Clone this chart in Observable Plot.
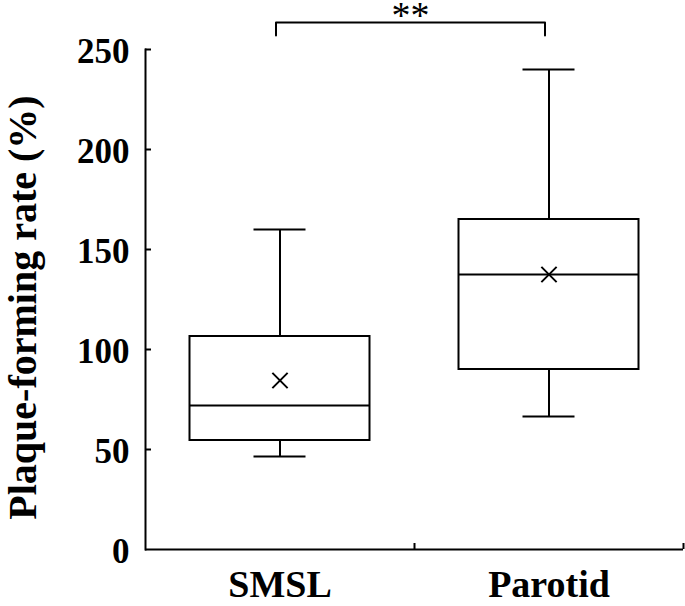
<!DOCTYPE html>
<html>
<head>
<meta charset="utf-8">
<script src="https://cdn.jsdelivr.net/npm/d3@7"></script>
<script src="https://cdn.jsdelivr.net/npm/@observablehq/plot@0.6"></script>
<style>
  html, body { margin: 0; padding: 0; background: white; }
  svg { display: block; }
</style>
</head>
<body>
<div id="chart"></div>
<script>
const categories = ["SMSL", "Parotid"];
const whiskerLow = [46.5, 66.5];
const q1 = [54.5, 90];
const median = [72, 137.5];
const q3 = [106.5, 165];
const whiskerHigh = [160, 240];
const mean = [84.5, 137.5];
const yTicks = [0, 50, 100, 150, 200, 250];
const yTitle = "Plaque-forming rate (%)";
const sigLabel = "**";
const sigPair = ["SMSL", "Parotid"];
const sigBracketY = 263.5;
const sigLegY = 257;
const sigLabelY = 269.5;

const rows = categories.map((c, i) => ({
  cat: c, lo: whiskerLow[i], q1: q1[i], med: median[i], q3: q3[i], hi: whiskerHigh[i], mean: mean[i]
}));
const bracket = [
  {x: sigPair[0], y: sigLegY},
  {x: sigPair[0], y: sigBracketY},
  {x: sigPair[1], y: sigBracketY},
  {x: sigPair[1], y: sigLegY}
];

const W = 685, H = 606;
const mL = 145, mR = 2, mT = 49, mB = 57;
const step = (W - mL - mR) / categories.length;
const frameW = W - mL - mR, frameH = H - mT - mB;
const boxInset = (step - 180) / 2;
const capInset = (step - 52) / 2;

const chart = Plot.plot({
  width: W,
  height: H,
  marginLeft: mL,
  marginRight: mR,
  marginTop: mT,
  marginBottom: mB,
  style: {fontFamily: "'Liberation Serif', 'Times New Roman', serif", fontWeight: "bold", background: "white", color: "black", overflow: "visible"},
  x: {domain: categories, padding: 0, label: null},
  y: {domain: [0, 250], label: null},
  marks: [
    Plot.frame({anchor: "left", strokeWidth: 2, stroke: "black"}),
    Plot.ruleY([0], {strokeWidth: 2, stroke: "black"}),
    Plot.tickY(yTicks.filter(d => d > 0), {y: d => d, insetRight: frameW - 6, strokeWidth: 2, stroke: "black"}),
    Plot.ruleX(categories, {x: d => d, insetTop: frameH - 6, dx: step / 2, strokeWidth: 2, stroke: "black"}),
    Plot.axisY({ticks: yTicks, tickSize: 0, tickPadding: 16, fontSize: 35, fontWeight: "bold", dy: 2}),
    Plot.axisX({tickSize: 0, tickPadding: 21, fontSize: 38, fontWeight: "bold"}),
    Plot.ruleX(rows, {x: "cat", y1: "lo", y2: "q1", strokeWidth: 2, stroke: "black"}),
    Plot.ruleX(rows, {x: "cat", y1: "q3", y2: "hi", strokeWidth: 2, stroke: "black"}),
    Plot.tickY(rows, {x: "cat", y: "lo", insetLeft: capInset, insetRight: capInset, strokeWidth: 2, stroke: "black"}),
    Plot.tickY(rows, {x: "cat", y: "hi", insetLeft: capInset, insetRight: capInset, strokeWidth: 2, stroke: "black"}),
    Plot.barY(rows, {x: "cat", y1: "q1", y2: "q3", insetLeft: boxInset, insetRight: boxInset, fill: "white", stroke: "black", strokeWidth: 2}),
    Plot.tickY(rows, {x: "cat", y: "med", insetLeft: boxInset, insetRight: boxInset, strokeWidth: 2, stroke: "black"}),
    Plot.dot(rows, {x: "cat", y: "mean", symbol: "times", r: 7, stroke: "black", strokeWidth: 2}),
    Plot.line(bracket, {x: "x", y: "y", dx: -4, stroke: "black", strokeWidth: 2, curve: "linear"}),
    Plot.text([sigLabel], {x: () => sigPair[0], y: () => sigLabelY, dx: step / 2 - 4, dy: 5, fontSize: 38, fontWeight: "normal", lineAnchor: "middle"}),
    Plot.text([yTitle], {frameAnchor: "left", textAnchor: "middle", dx: -122, dy: 8, rotate: -90, fontSize: 40, fontWeight: "bold"})
  ]
});
document.getElementById("chart").appendChild(chart);
</script>
</body>
</html>
